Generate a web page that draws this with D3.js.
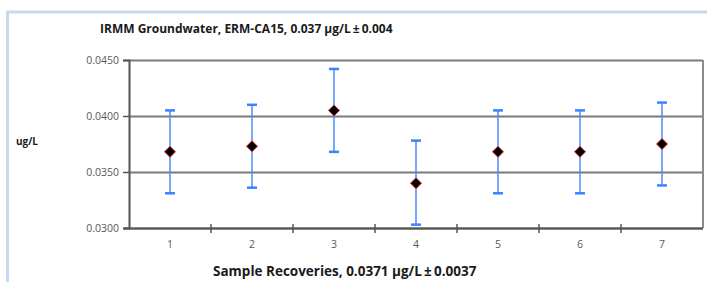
<!DOCTYPE html>
<html>
<head>
<meta charset="utf-8">
<script src="https://cdn.jsdelivr.net/npm/d3@7"></script>
<style>
  body { margin: 0; background: #fff; }
  svg text { font-family: "Open Sans", "Liberation Sans", sans-serif; }
</style>
</head>
<body>
<div id="divchart"></div>
<script>
var width = 707, height = 282;

// data
var samples = ["1", "2", "3", "4", "5", "6", "7"];
var recoveries = [0.0368, 0.0373, 0.0405, 0.0340, 0.0368, 0.0368, 0.0375];
var errPlus = [0.0037, 0.0037, 0.0037, 0.0038, 0.0037, 0.0037, 0.0037];
var errMinus = [0.0037, 0.0037, 0.0037, 0.0037, 0.0037, 0.0037, 0.0037];
var yTicks = [0.030, 0.035, 0.040, 0.045];

var titleText = "IRMM Groundwater, ERM-CA15, 0.037\u00a0\u00b5g/L\u2009\u00b1\u20090.004";
var xTitleText = "Sample Recoveries, 0.0371\u00a0\u00b5g/L\u2009\u00b1\u20090.0037";
var yTitleText = "ug/L";

var margin = { top: 60, right: 4, bottom: 54, left: 129 };
var pw = width - margin.left - margin.right,
    ph = height - margin.top - margin.bottom;

var svg = d3.select("#divchart").append("svg")
    .attr("width", width)
    .attr("height", height);

// light blue frame (top and left only, as cropped)
svg.append("line")
    .attr("x1", 6).attr("x2", width).attr("y1", 12).attr("y2", 12)
    .style("stroke", "#c6d9f1").style("stroke-width", 3);
svg.append("line")
    .attr("x1", 7.5).attr("x2", 7.5).attr("y1", 11).attr("y2", height)
    .style("stroke", "#c6d9f1").style("stroke-width", 3);

var x = d3.scaleBand()
    .domain(samples)
    .range([0, pw]);

var y = d3.scaleLinear()
    .domain([0.030, 0.045])
    .range([ph, 0]);

var g = svg.append("g")
    .attr("transform", "translate(" + margin.left + "," + margin.top + ")");

// gridlines
g.selectAll(".grid")
    .data(yTicks)
    .enter()
    .append("line")
    .attr("class", "grid")
    .attr("x1", 0).attr("x2", pw)
    .attr("y1", function (d) { return Math.round(y(d)) + 0.5; })
    .attr("y2", function (d) { return Math.round(y(d)) + 0.5; })
    .style("stroke", "#7a7a7a").style("stroke-width", 2);

// plot border right side
g.append("line")
    .attr("x1", pw).attr("x2", pw).attr("y1", 0).attr("y2", ph)
    .style("stroke", "#8c8c8c").style("stroke-width", 2);

// y axis
var yAxis = d3.axisLeft(y)
    .tickValues(yTicks)
    .tickFormat(d3.format(".4f"))
    .tickSize(6)
    .tickPadding(4);

var ya = g.append("g").call(yAxis);
ya.select(".domain").style("stroke", "#555").style("stroke-width", 2);
ya.selectAll(".tick line").style("stroke", "#555").style("stroke-width", 1.5);
ya.selectAll(".tick text").style("fill", "#595959").style("font-size", "10.5px");

// x axis: ticks on category boundaries, crossing the line
var xa = g.append("g").attr("transform", "translate(0," + ph + ")");
xa.append("line")
    .attr("x1", -5).attr("x2", pw).attr("y1", 0.5).attr("y2", 0.5)
    .style("stroke", "#555").style("stroke-width", 2);
xa.selectAll(".xtick")
    .data(samples.slice(1))
    .enter()
    .append("line")
    .attr("class", "xtick")
    .attr("x1", function (d) { return x(d); })
    .attr("x2", function (d) { return x(d); })
    .attr("y1", -4).attr("y2", 5)
    .style("stroke", "#555").style("stroke-width", 1.5);
xa.selectAll(".xlabel")
    .data(samples)
    .enter()
    .append("text")
    .attr("class", "xlabel")
    .attr("x", function (d) { return x(d) + x.bandwidth() / 2; })
    .attr("y", 20)
    .attr("text-anchor", "middle")
    .style("fill", "#595959").style("font-size", "10.5px")
    .text(function (d) { return d; });

// error bars
var pts = samples.map(function (s, i) {
    return { name: s, v: recoveries[i], hi: recoveries[i] + errPlus[i], lo: recoveries[i] - errMinus[i] };
});

var eb = g.selectAll(".errbar")
    .data(pts)
    .enter()
    .append("g")
    .attr("class", "errbar")
    .attr("transform", function (d) { return "translate(" + (x(d.name) + x.bandwidth() / 2) + ",0)"; });

eb.append("line")
    .attr("x1", 0).attr("x2", 0)
    .attr("y1", function (d) { return y(d.hi); })
    .attr("y2", function (d) { return y(d.lo); })
    .style("stroke", "#4d8dff").style("stroke-width", 1.5);
eb.append("line")
    .attr("x1", -5).attr("x2", 5)
    .attr("y1", function (d) { return y(d.hi); })
    .attr("y2", function (d) { return y(d.hi); })
    .style("stroke", "#3a82ff").style("stroke-width", 2.5);
eb.append("line")
    .attr("x1", -5).attr("x2", 5)
    .attr("y1", function (d) { return y(d.lo); })
    .attr("y2", function (d) { return y(d.lo); })
    .style("stroke", "#3a82ff").style("stroke-width", 2.5);

// diamond markers
eb.append("path")
    .attr("d", "M0,-5.5L5.5,0L0,5.5L-5.5,0Z")
    .attr("transform", function (d) { return "translate(0," + y(d.v) + ")"; })
    .style("fill", "#000")
    .style("stroke", "#e03030").style("stroke-width", 1);

// titles
svg.append("text")
    .attr("x", 100).attr("y", 33)
    .style("font-size", "12px").style("font-weight", "bold").style("fill", "#1a1a1a")
    .text(titleText);

svg.append("text")
    .attr("x", 213).attr("y", 276)
    .style("font-size", "13.5px").style("font-weight", "bold").style("fill", "#1a1a1a")
    .text(xTitleText);

svg.append("text")
    .attr("x", 16).attr("y", 145)
    .style("font-size", "10px").style("font-weight", "bold").style("fill", "#1a1a1a")
    .text(yTitleText);
</script>
</body>
</html>
